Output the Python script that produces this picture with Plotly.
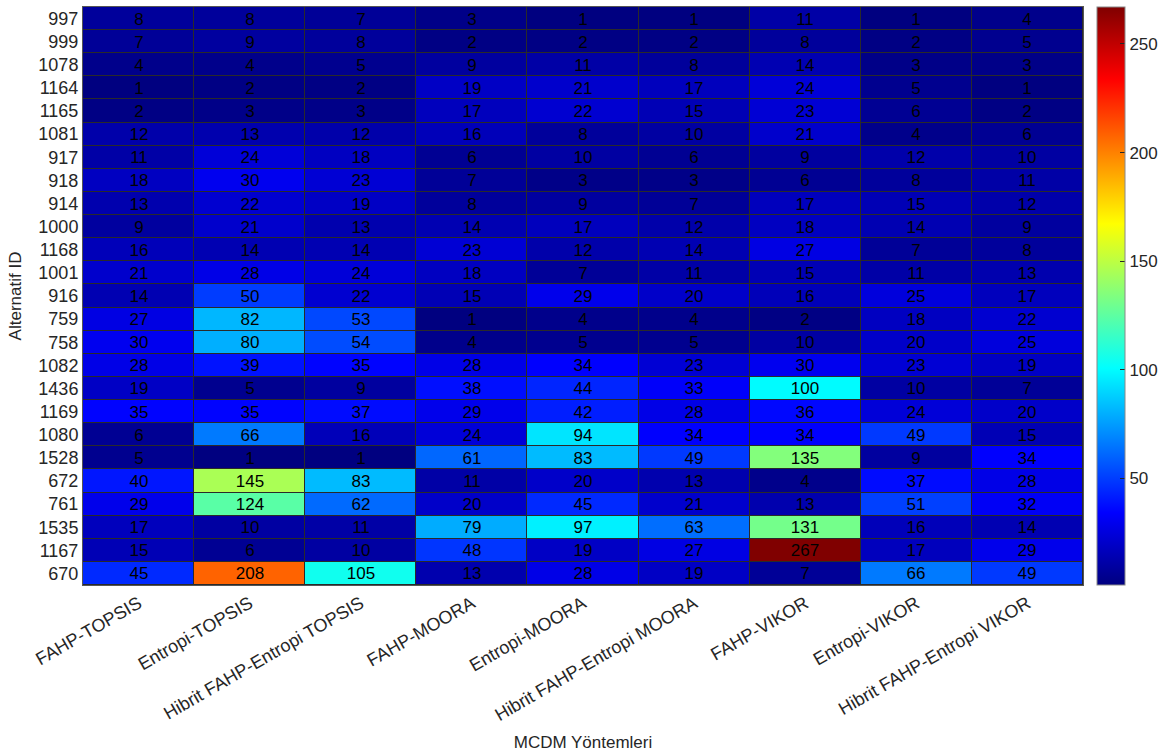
import plotly.graph_objects as go

methods = ["FAHP-TOPSIS", "Entropi-TOPSIS", "Hibrit FAHP-Entropi TOPSIS",
           "FAHP-MOORA", "Entropi-MOORA", "Hibrit FAHP-Entropi MOORA",
           "FAHP-VIKOR", "Entropi-VIKOR", "Hibrit FAHP-Entropi VIKOR"]

alt_ids = ["997", "999", "1078", "1164", "1165", "1081", "917", "918", "914",
           "1000", "1168", "1001", "916", "759", "758", "1082", "1436", "1169",
           "1080", "1528", "672", "761", "1535", "1167", "670"]

ranks = [
    [8, 8, 7, 3, 1, 1, 11, 1, 4],
    [7, 9, 8, 2, 2, 2, 8, 2, 5],
    [4, 4, 5, 9, 11, 8, 14, 3, 3],
    [1, 2, 2, 19, 21, 17, 24, 5, 1],
    [2, 3, 3, 17, 22, 15, 23, 6, 2],
    [12, 13, 12, 16, 8, 10, 21, 4, 6],
    [11, 24, 18, 6, 10, 6, 9, 12, 10],
    [18, 30, 23, 7, 3, 3, 6, 8, 11],
    [13, 22, 19, 8, 9, 7, 17, 15, 12],
    [9, 21, 13, 14, 17, 12, 18, 14, 9],
    [16, 14, 14, 23, 12, 14, 27, 7, 8],
    [21, 28, 24, 18, 7, 11, 15, 11, 13],
    [14, 50, 22, 15, 29, 20, 16, 25, 17],
    [27, 82, 53, 1, 4, 4, 2, 18, 22],
    [30, 80, 54, 4, 5, 5, 10, 20, 25],
    [28, 39, 35, 28, 34, 23, 30, 23, 19],
    [19, 5, 9, 38, 44, 33, 100, 10, 7],
    [35, 35, 37, 29, 42, 28, 36, 24, 20],
    [6, 66, 16, 24, 94, 34, 34, 49, 15],
    [5, 1, 1, 61, 83, 49, 135, 9, 34],
    [40, 145, 83, 11, 20, 13, 4, 37, 28],
    [29, 124, 62, 20, 45, 21, 13, 51, 32],
    [17, 10, 11, 79, 97, 63, 131, 16, 14],
    [15, 6, 10, 48, 19, 27, 267, 17, 29],
    [45, 208, 105, 13, 28, 19, 7, 66, 49],
]

cbar_ticks = [50, 100, 150, 200, 250]

jet = [
    [0.0, "rgb(0,0,128)"],
    [0.125, "rgb(0,0,255)"],
    [0.375, "rgb(0,255,255)"],
    [0.625, "rgb(255,255,0)"],
    [0.875, "rgb(255,0,0)"],
    [1.0, "rgb(128,0,0)"],
]

font_family = "Liberation Sans, Arial, sans-serif"
txt = "#262626"

fig = go.Figure(go.Heatmap(
    z=ranks,
    x=methods,
    y=alt_ids,
    colorscale=jet,
    zmin=1,
    zmax=267,
    xgap=1,
    ygap=1,
    texttemplate="%{z}",
    textfont=dict(size=17, color="black", family=font_family),
    colorbar=dict(
        x=1.014, xanchor="left", xref="paper", xpad=0, ypad=0,
        y=0, yanchor="bottom", len=1, lenmode="fraction",
        thickness=28, outlinewidth=1, outlinecolor="#888888",
        tickvals=cbar_ticks, ticks="inside", ticklen=5, tickcolor=txt,
        tickfont=dict(size=17, color=txt, family=font_family),
    ),
))

fig.update_layout(
    width=1167, height=755,
    margin=dict(l=83, r=84, t=7, b=170, autoexpand=False),
    paper_bgcolor="white",
    plot_bgcolor="#2a2a2a",
    font=dict(family=font_family, color=txt),
    xaxis=dict(
        title=dict(text="MCDM Yöntemleri", font=dict(size=17, color=txt), standoff=12),
        tickangle=-30, tickfont=dict(size=18, color=txt),
        showline=True, linecolor="#555555", linewidth=1, mirror=True,
        ticks="", showgrid=False, automargin=False,
    ),
    yaxis=dict(
        title=dict(text="Alternatif ID", font=dict(size=17, color=txt), standoff=12),
        autorange="reversed", type="category",
        tickfont=dict(size=18, color=txt),
        showline=True, linecolor="#555555", linewidth=1, mirror=True,
        ticks="", showgrid=False, automargin=False,
    ),
)

fig.write_html("out.html",
               config={"displayModeBar": False},
               post_script="document.body.style.margin='0';document.body.style.overflow='hidden';")
